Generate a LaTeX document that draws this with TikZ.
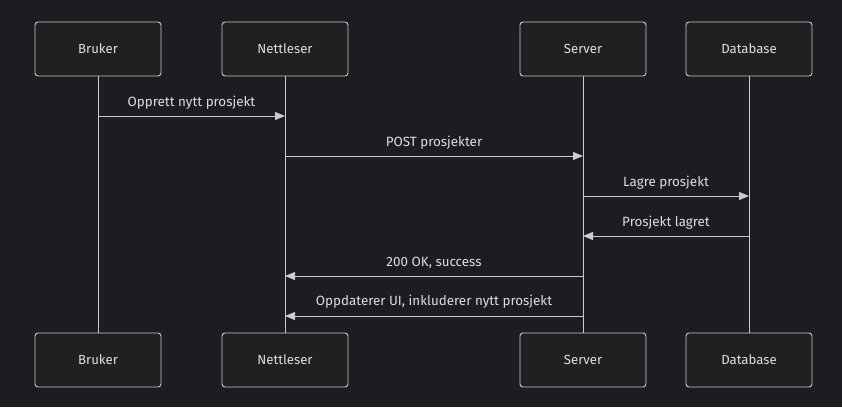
\documentclass[tikz,border=0pt]{standalone}
\usepackage{fontspec}
\setmainfont{Fira Sans}
\usepackage{tikz}
\usetikzlibrary{arrows.meta}

\definecolor{bgdark}{RGB}{28,28,33}
\definecolor{boxfill}{RGB}{31,32,32}
\definecolor{linegrey}{RGB}{204,204,204}
\definecolor{textgrey}{RGB}{220,222,224}

\tikzset{
	actor/.style={shape=rectangle, draw=linegrey, fill=boxfill, rounded corners=3pt,
		minimum width=126pt, minimum height=54pt, line width=0.9pt,
		text=textgrey, font=\fontsize{13.2}{15}\selectfont},
	lifeline/.style={draw=linegrey, line width=0.9pt},
	msg/.style={draw=linegrey, line width=0.9pt, -{Triangle[length=10pt,width=8pt]}},
	msgtext/.style={text=textgrey, font=\fontsize{13.4}{15}\selectfont, anchor=base},
}

\begin{document}
\begin{tikzpicture}[x=1pt, y=-1pt]
	
	\useasboundingbox[fill=bgdark] (0,0) rectangle (842,407);
	
	% lifelines first, boxes on top
	\coordinate (bt) at (98, 76);   \coordinate (bb) at (98, 333);
	\coordinate (nt) at (285, 76);  \coordinate (nb) at (285, 333);
	\coordinate (st) at (583, 76);  \coordinate (sb) at (583, 333);
	\coordinate (dt) at (749, 76);  \coordinate (db) at (749, 333);
	\path[lifeline] (bt) edge (bb);
	\path[lifeline] (nt) edge (nb);
	\path[lifeline] (st) edge (sb);
	\path[lifeline] (dt) edge (db);
	
	\node[actor] (bruker)    at (98, 49)   {Bruker};
	\node[actor] (nettleser) at (285, 49)  {Nettleser};
	\node[actor] (server)    at (583, 49)  {Server};
	\node[actor] (database)  at (749, 49)  {Database};
	
	\node[actor] (bruker2)    at (98, 360)  {Bruker};
	\node[actor] (nettleser2) at (285, 360) {Nettleser};
	\node[actor] (server2)    at (583, 360) {Server};
	\node[actor] (database2)  at (749, 360) {Database};
	
	% message end points
	\coordinate (b1) at (98, 116);   \coordinate (n1) at (285, 116);
	\coordinate (n2) at (285, 156);  \coordinate (s2) at (583, 156);
	\coordinate (s3) at (583, 196);  \coordinate (d3) at (749, 196);
	\coordinate (d4) at (749, 236);  \coordinate (s4) at (583, 236);
	\coordinate (s5) at (583, 276);  \coordinate (n5) at (285, 276);
	\coordinate (s6) at (583, 316);  \coordinate (n6) at (285, 316);
	
	\draw[msg] (b1) -- (n1);
	\draw[msg] (n2) -- (s2);
	\draw[msg] (s3) -- (d3);
	\draw[msg] (d4) -- (s4);
	\draw[msg] (s5) -- (n5);
	\draw[msg] (s6) -- (n6);
	
	\node[msgtext] (m1) at (191.5, 106) {Opprett nytt prosjekt};
	\node[msgtext] (m2) at (434, 146)   {POST prosjekter};
	\node[msgtext] (m3) at (666, 186)   {Lagre prosjekt};
	\node[msgtext] (m4) at (666, 226)   {Prosjekt lagret};
	\node[msgtext] (m5) at (434, 266)   {200 OK, success};
	\node[msgtext] (m6) at (434, 305)   {Oppdaterer UI, inkluderer nytt prosjekt};

\end{tikzpicture}
\end{document}
